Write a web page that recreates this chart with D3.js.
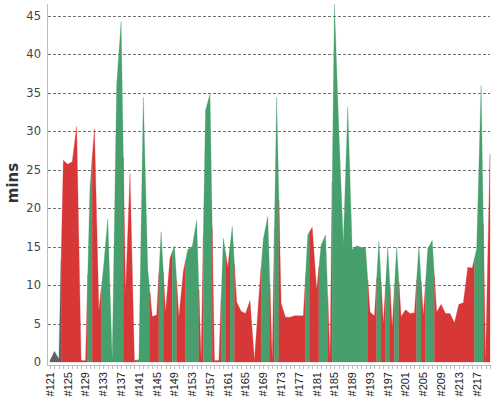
<!DOCTYPE html>
<html>
<head>
<meta charset="utf-8">
<script src="https://cdn.jsdelivr.net/npm/d3@7/dist/d3.min.js"></script>
<style>
  html, body { margin: 0; padding: 0; background: #fff; }
  svg { display: block; }
</style>
</head>
<body>
<div id="chart"></div>
<script>
// ----------------------------------------------------
// Build time trend: one duration line, each build's slice
// coloured by its result
// ----------------------------------------------------

const builds = [
  121,122,123,124,125,126,127,128,129,130,131,132,133,134,135,136,137,138,139,140,
  141,142,143,144,145,146,147,148,149,150,151,152,153,154,155,156,157,158,159,160,
  161,162,163,164,165,166,167,168,169,170,171,172,173,174,175,176,177,178,179,180,
  181,182,183,184,185,186,187,188,189,190,191,192,193,194,195,196,197,198,199,200,
  201,202,203,204,205,206,207,208,209,210,211,212,213,214,215,216,217,218,219,220
].map(n => '#' + n);

// minutes
const durations = [
  0.2, 1.4, 0.4, 26.2, 25.7, 26.0, 30.6, 0.2, 0.2, 22.7, 30.3, 6.7, 12, 18.6, 0.3, 36, 44.2, 9, 24.5, 0.2,
  0.3, 34.4, 12, 5.9, 6.1, 16.9, 6.5, 13.5, 15.1, 5.8, 11.8, 14.6, 15.0, 18.4, 0.3, 32.7, 34.8, 0.2, 0.2, 16.1,
  12.3, 17.6, 7.8, 6.6, 6.3, 8.0, 0.2, 8.5, 16, 18.9, 0.3, 34.4, 7.6, 5.8, 5.8, 6.0, 6.0, 6.0, 16.5, 17.5,
  9.4, 15.2, 16.5, 0.3, 46.5, 30, 15.4, 33.1, 14.6, 15.1, 14.9, 14.8, 6.5, 6.0, 15.7, 5, 14.9, 4.5, 14.9, 5.9,
  6.8, 6.3, 6.4, 15.0, 6, 14.7, 15.8, 6.5, 7.5, 6.3, 6.3, 5.1, 7.5, 7.7, 12.3, 12.2, 14.7, 35.9, 0.1, 27
];

// A = aborted, F = failed, S = success
const results = [
  'A','A','A','F','F','F','F','F','F','S','F','F','S','S','S','S','S','F','F','F',
  'S','S','S','F','F','S','F','F','S','F','F','S','S','S','F','S','S','F','F','S',
  'F','S','F','F','F','F','F','F','S','S','F','S','F','F','F','F','F','F','S','F',
  'F','S','S','F','S','S','S','S','S','S','S','S','F','F','S','F','S','F','S','F',
  'F','F','F','S','F','S','S','F','F','F','F','F','F','F','F','F','S','S','F','F'
];

const yTicks = [0, 5, 10, 15, 20, 25, 30, 35, 40, 45];
const labelEvery = 4;

const colors = {A: '#606060', F: '#d83737', S: '#469f6d'};

// ----------------------------------------------------

const width = 500, height = 400;
const plot = {left: 47, right: 491, top: 4, bottom: 362};

const svg = d3.select('#chart')
  .append('svg')
  .attr('width', width)
  .attr('height', height);

const x = d3.scalePoint()
  .domain(builds)
  .range([50, 490]);
const half = x.step() / 2;

const y = d3.scaleLinear()
  .domain([0, d3.max(durations)])
  .range([plot.bottom, plot.top]);

// grid
svg.append('g')
  .attr('stroke', '#707070')
  .attr('stroke-width', 1)
  .attr('stroke-dasharray', '3,2')
.selectAll('line')
  .data(yTicks.filter(t => t > 0))
  .enter().append('line')
    .attr('x1', plot.left + 1)
    .attr('x2', plot.right - 1)
    .attr('y1', d => Math.round(y(d)) + 0.5)
    .attr('y2', d => Math.round(y(d)) + 0.5);

// runs of builds with the same result; each run owns the line
// from half a step before its first build to half a step after its last
const mid = (i, j) => (durations[i] + durations[j]) / 2;
const runs = [];
builds.forEach((b, i) => {
  const last = runs[runs.length - 1];
  if (last && last.result === results[i]) last.end = i;
  else runs.push({result: results[i], start: i, end: i});
});
runs.forEach(r => {
  const pts = [];
  if (r.start > 0)
    pts.push({px: x(builds[r.start]) - half, v: mid(r.start - 1, r.start)});
  for (let i = r.start; i <= r.end; i++)
    pts.push({px: x(builds[i]), v: durations[i]});
  if (r.end < builds.length - 1)
    pts.push({px: x(builds[r.end]) + half, v: mid(r.end, r.end + 1)});
  r.points = pts;
});

const area = d3.area()
  .x(d => d.px)
  .y0(y(0))
  .y1(d => y(d.v));

svg.append('g')
.selectAll('path')
  .data(runs)
  .enter().append('path')
    .attr('d', d => area(d.points))
    .attr('fill', d => colors[d.result])
    .attr('stroke', d => colors[d.result])
    .attr('stroke-width', 0.3);

// axes
svg.append('line')
  .attr('x1', plot.left + 0.5).attr('x2', plot.left + 0.5)
  .attr('y1', plot.top).attr('y2', 365)
  .attr('stroke', '#bdbdbd');

svg.append('line')
  .attr('x1', plot.left).attr('x2', plot.right)
  .attr('y1', 365.5).attr('y2', 365.5)
  .attr('stroke', '#bdbdbd');

svg.append('g')
  .attr('stroke', '#bdbdbd')
.selectAll('line')
  .data(builds)
  .enter().append('line')
    .attr('x1', d => Math.round(x(d)) + 0.5)
    .attr('x2', d => Math.round(x(d)) + 0.5)
    .attr('y1', 365)
    .attr('y2', 369);

svg.append('g')
  .style('font', '11.5px "DejaVu Sans", sans-serif')
  .attr('fill', '#444')
  .attr('text-anchor', 'end')
.selectAll('text')
  .data(yTicks)
  .enter().append('text')
    .attr('x', 41)
    .attr('y', d => y(d))
    .attr('dy', '0.36em')
    .text(d => d);

svg.append('g')
  .style('font', '11px "Liberation Sans", Arial, sans-serif')
  .attr('fill', '#222')
  .attr('text-anchor', 'end')
.selectAll('text')
  .data(builds.filter((b, i) => i % labelEvery === 0))
  .enter().append('text')
    .attr('transform', d => `translate(${x(d)},372) rotate(-90)`)
    .attr('dy', '0.35em')
    .text(d => d);

svg.append('text')
  .attr('transform', 'translate(18,183) rotate(-90)')
  .attr('text-anchor', 'middle')
  .attr('fill', '#333')
  .style('font', 'bold 15px "DejaVu Sans", sans-serif')
  .text('mins');
</script>
</body>
</html>
